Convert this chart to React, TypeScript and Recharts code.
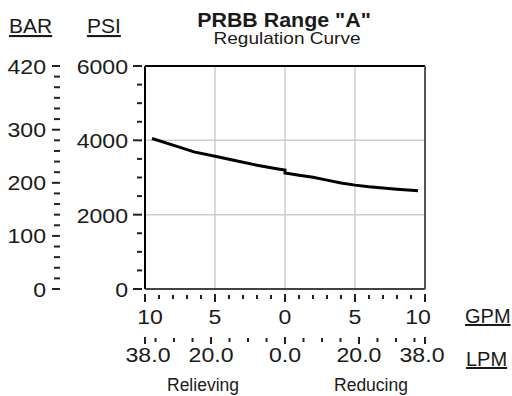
import { LineChart, Line, XAxis, YAxis, ReferenceLine } from "recharts";

// ─── Style ───────────────────────────────────────────────────────────────────

const FONT = '"Liberation Sans", Arial, Helvetica, sans-serif';
const INK = "#1a1a1a";
const TICK = "#222";
const GRID = "#cccccc";
const DIGIT_STRETCH = 1.1;
const LPM_PER_GPM = 3.785;

// ─── Data ────────────────────────────────────────────────────────────────────

// flow: negative = relieving, positive = reducing
const flowGpm = [-9.5, -8, -6.5, -5, -3.5, -2, -0.5, 0, 0, 1, 2, 3, 4, 5, 6, 7, 8, 9.5];
const pressurePsi = [
  4050, 3870, 3690, 3570, 3450, 3330, 3230, 3200, 3120, 3060, 3005, 2930, 2850, 2795, 2750,
  2715, 2685, 2645,
];

const gpmTicks = [-10, -9, -8, -7, -6, -5, -4, -3, -2, -1, 0, 1, 2, 3, 4, 5, 6, 7, 8, 9, 10];
const gpmMajor = [-10, -5, 0, 5, 10];
const gpmMajorLabels = ["10", "5", "0", "5", "10"];

const lpmTicks = [-37.85, -35, -30, -25, -20, -15, -10, -5, 0, 5, 10, 15, 20, 25, 30, 35, 37.85];
const lpmMajor = [-37.85, -20, 0, 20, 37.85];
const lpmMajorLabels = ["38.0", "20.0", "0.0", "20.0", "38.0"];

const psiTicks = [0, 500, 1000, 1500, 2000, 2500, 3000, 3500, 4000, 4500, 5000, 5500, 6000];
const psiMajor = [0, 2000, 4000, 6000];
const psiMajorLabels = ["0", "2000", "4000", "6000"];

const barTicks = [
  0, 20, 40, 60, 80, 100, 120, 140, 160, 180, 200, 220, 240, 260, 280, 300, 320, 340, 360, 380,
  400, 420,
];
const barMajor = [0, 100, 200, 300, 420];
const barMajorLabels = ["0", "100", "200", "300", "420"];

const gridPsi = [2000, 4000];
const gridGpm = [-5, 0, 5];

const data = flowGpm.map((gpm, i) => ({ gpm, lpm: gpm * LPM_PER_GPM, psi: pressurePsi[i] }));

// ─── Tick renderers ─────────────────────────────────────────────────────────

function Digits({ x, y, anchor, children }: { x: number; y: number; anchor: string; children: string }) {
  return (
    <text
      transform={`translate(${x},${y}) scale(${DIGIT_STRETCH},1)`}
      textAnchor={anchor}
      fontFamily={FONT}
      fontSize={21}
      fill={INK}
    >
      {children}
    </text>
  );
}

function GpmTick(props: any) {
  const { x, y, payload } = props;
  const idx = gpmMajor.indexOf(payload.value);
  const major = idx >= 0;
  // end labels sit a little inside the axis ends
  const shift = payload.value === -10 ? 5 : payload.value === 10 ? -7 : 0;
  return (
    <g>
      <line x1={x} x2={x} y1={y + (major ? 5 : 6)} y2={y + (major ? 13 : 10)} stroke={TICK} strokeWidth={2} />
      {major && (
        <Digits x={x + shift} y={y + 35} anchor="middle">
          {gpmMajorLabels[idx]}
        </Digits>
      )}
    </g>
  );
}

function LpmTick(props: any) {
  const { x, y, payload } = props;
  const idx = lpmMajor.indexOf(payload.value);
  const major = idx >= 0;
  const shift = payload.value === -37.85 ? 3 : payload.value === 37.85 ? -3 : 0;
  return (
    <g>
      <line x1={x} x2={x} y1={y + (major ? 5 : 6)} y2={y + (major ? 12 : 10)} stroke={TICK} strokeWidth={2} />
      {major && (
        <Digits x={x + shift} y={y + 30} anchor="middle">
          {lpmMajorLabels[idx]}
        </Digits>
      )}
    </g>
  );
}

function PsiTick(props: any) {
  const { x, y, payload } = props;
  const idx = psiMajor.indexOf(payload.value);
  const major = idx >= 0;
  return (
    <g>
      <line x1={x - (major ? 12 : 8)} x2={x - 3} y1={y} y2={y} stroke={TICK} strokeWidth={2} />
      {major && (
        <Digits x={x - 17} y={y + 8} anchor="end">
          {psiMajorLabels[idx]}
        </Digits>
      )}
    </g>
  );
}

function BarTick(props: any) {
  const { x, y, payload } = props;
  const idx = barMajor.indexOf(payload.value);
  const major = idx >= 0;
  return (
    <g>
      <line x1={x - (major ? 10 : 8)} x2={x - 2} y1={y} y2={y} stroke={TICK} strokeWidth={2} />
      {major && (
        <Digits x={x - 16} y={y + 7.5} anchor="end">
          {barMajorLabels[idx]}
        </Digits>
      )}
    </g>
  );
}

// ─── Chart ───────────────────────────────────────────────────────────────────

export default function App() {
  return (
    <div style={{ position: "absolute", left: 0, top: 0, width: 512, height: 396, background: "#fff" }}>
      <LineChart width={512} height={396} data={data} margin={{ top: 66, right: 87, bottom: 30, left: 0 }}>
        <XAxis
          xAxisId="gpm"
          dataKey="gpm"
          type="number"
          domain={[-10, 10]}
          ticks={gpmTicks}
          interval={0}
          height={43}
          tickSize={0}
          tickMargin={0}
          tickLine={false}
          axisLine={{ stroke: "#444", strokeWidth: 2 }}
          tick={GpmTick}
          allowDataOverflow
        />
        <XAxis
          xAxisId="lpm"
          dataKey="lpm"
          type="number"
          domain={[-37.85, 37.85]}
          ticks={lpmTicks}
          interval={0}
          height={34}
          tickSize={0}
          tickMargin={0}
          tickLine={false}
          axisLine={false}
          tick={LpmTick}
          allowDataOverflow
        />
        {/* ids sort so the PSI axis sits next to the plot, BAR outside it */}
        <YAxis
          yAxisId="a_psi"
          type="number"
          domain={[0, 6000]}
          ticks={psiTicks}
          interval={0}
          width={83}
          tickSize={0}
          tickMargin={0}
          tickLine={false}
          axisLine={{ stroke: "#000", strokeWidth: 2 }}
          tick={PsiTick}
          allowDataOverflow
        />
        <YAxis
          yAxisId="b_bar"
          type="number"
          domain={[0, 420]}
          ticks={barTicks}
          interval={0}
          width={62}
          tickSize={0}
          tickMargin={0}
          tickLine={false}
          axisLine={false}
          tick={BarTick}
          allowDataOverflow
        />

        {gridPsi.map((v) => (
          <ReferenceLine key={`h${v}`} xAxisId="gpm" yAxisId="a_psi" y={v} stroke={GRID} strokeWidth={1.5} />
        ))}
        {gridGpm.map((v) => (
          <ReferenceLine key={`v${v}`} xAxisId="gpm" yAxisId="a_psi" x={v} stroke={GRID} strokeWidth={1.5} />
        ))}
        <ReferenceLine xAxisId="gpm" yAxisId="a_psi" y={6000} stroke="#000" strokeWidth={2} />
        <ReferenceLine xAxisId="gpm" yAxisId="a_psi" x={10} stroke="#555" strokeWidth={2} />

        <Line
          xAxisId="gpm"
          yAxisId="a_psi"
          dataKey="psi"
          type="linear"
          stroke="#000"
          strokeWidth={3}
          dot={false}
          isAnimationActive={false}
        />
      </LineChart>

      <svg width={512} height={396} style={{ position: "absolute", left: 0, top: 0, pointerEvents: "none" }}>
        <g fontFamily={FONT} fill={INK}>
          <text transform="translate(284,27) scale(1.07,1)" textAnchor="middle" fontSize={20} fontWeight="bold">
            {'PRBB Range "A"'}
          </text>
          <text transform="translate(287,44) scale(1.12,1)" textAnchor="middle" fontSize={17}>
            Regulation Curve
          </text>
          <text x={9} y={33} fontSize={21} textDecoration="underline">
            BAR
          </text>
          <text x={87} y={33} fontSize={21} textDecoration="underline">
            PSI
          </text>
          <text x={465} y={323} fontSize={20} textDecoration="underline">
            GPM
          </text>
          <text x={466} y={366} fontSize={20} textDecoration="underline">
            LPM
          </text>
          <text x={203} y={391} fontSize={17.5} textAnchor="middle">
            Relieving
          </text>
          <text x={371} y={391} fontSize={17.5} textAnchor="middle">
            Reducing
          </text>
        </g>
      </svg>
    </div>
  );
}
